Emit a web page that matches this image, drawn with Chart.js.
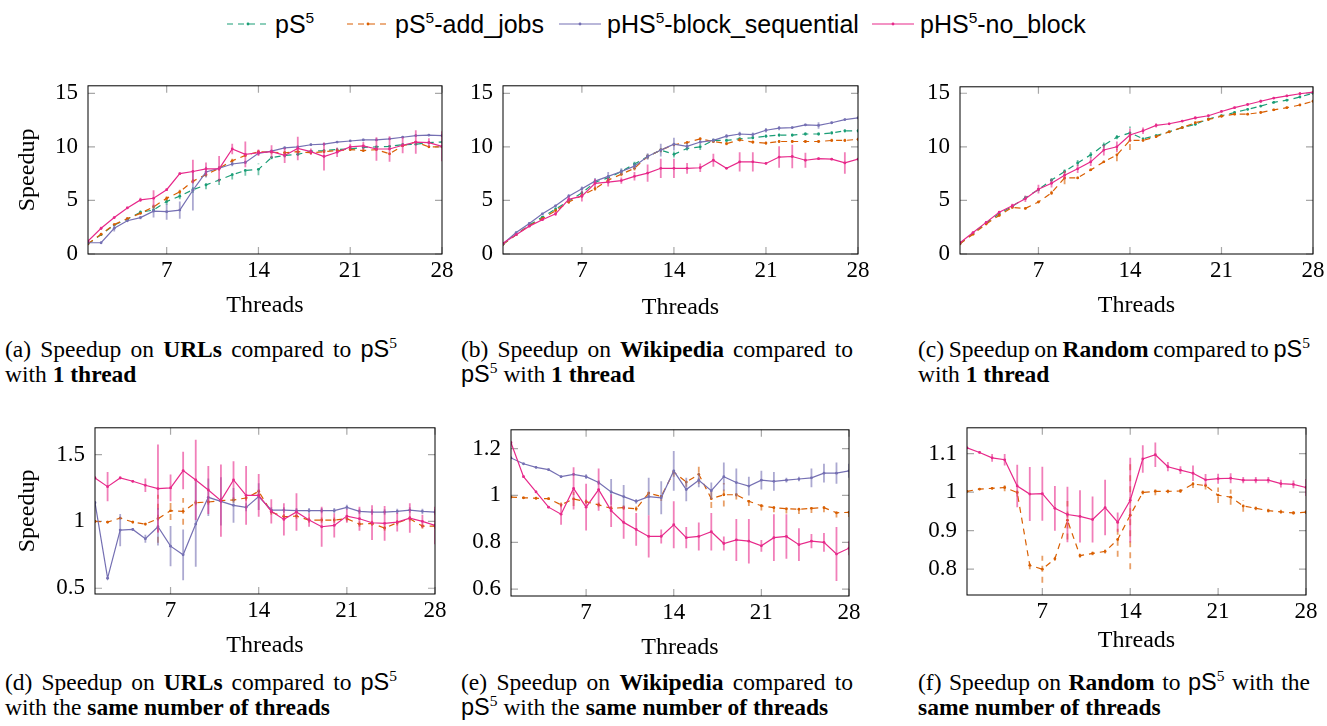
<!DOCTYPE html>
<html>
<head>
<meta charset="utf-8">
<script src="https://cdn.jsdelivr.net/npm/chart.js@4.4.1/dist/chart.umd.min.js"></script>
<style>
  html, body { margin: 0; padding: 0; background: #fff; }
  #page { position: relative; width: 1327px; height: 726px; overflow: hidden; }
  canvas { position: absolute; }
  .item { position: absolute; top: 9px; height: 30px; display: flex; align-items: center; gap: 6px;
          font: 25px/30px 'Liberation Sans', Arial, sans-serif; color: #000; white-space: nowrap; }
  .item sup { font-size: 0.62em; vertical-align: 10px; line-height: 0; }
  .cap { position: absolute; width: 392px; font: 23.5px/25px 'Liberation Serif', 'Times New Roman', serif; color: #000; }
  .cap .l1 { text-align: justify; text-align-last: justify; word-spacing: -2.5px; }
  .cap b { font-weight: bold; }
  .ps { font-family: 'Liberation Sans', Arial, sans-serif; }
  .ps sup { font-family: 'Liberation Serif', serif; font-size: 0.66em; vertical-align: 0.6em; line-height: 0; }
</style>
</head>
<body>
<div id="page">
  <div class="item" style="left:227px"><svg width="42" height="30"><line x1="0" y1="15" x2="42" y2="15" stroke="#1b9e77" stroke-width="1.2" stroke-dasharray="6 5"/><circle cx="21" cy="15" r="1.4" fill="#1b9e77"/></svg><span>pS<sup>5</sup></span></div>
  <div class="item" style="left:347px"><svg width="42" height="30"><line x1="0" y1="15" x2="42" y2="15" stroke="#d95f02" stroke-width="1.2" stroke-dasharray="6 5"/><circle cx="21" cy="15" r="1.4" fill="#d95f02"/></svg><span>pS<sup>5</sup>-add_jobs</span></div>
  <div class="item" style="left:559px"><svg width="42" height="30"><line x1="0" y1="15" x2="42" y2="15" stroke="#7570b3" stroke-width="1.2"/><circle cx="21" cy="15" r="1.4" fill="#7570b3"/></svg><span>pHS<sup>5</sup>-block_sequential</span></div>
  <div class="item" style="left:872px"><svg width="42" height="30"><line x1="0" y1="15" x2="42" y2="15" stroke="#e7298a" stroke-width="1.2"/><circle cx="21" cy="15" r="1.4" fill="#e7298a"/></svg><span>pHS<sup>5</sup>-no_block</span></div>

  <div class="cap" style="left:5px;top:337px"><div class="l1">(a) Speedup on <b>URLs</b> compared to <span class="ps">pS<sup>5</sup></span></div><div>with <b>1 thread</b></div></div>
  <div class="cap" style="left:461px;top:337px"><div class="l1">(b) Speedup on <b>Wikipedia</b> compared to</div><div><span class="ps">pS<sup>5</sup></span> with <b>1 thread</b></div></div>
  <div class="cap" style="left:918px;top:337px"><div class="l1">(c) Speedup on <b>Random</b> compared to <span class="ps">pS<sup>5</sup></span></div><div>with <b>1 thread</b></div></div>
  <div class="cap" style="left:5px;top:670px"><div class="l1">(d) Speedup on <b>URLs</b> compared to <span class="ps">pS<sup>5</sup></span></div><div>with the <b>same number of threads</b></div></div>
  <div class="cap" style="left:461px;top:670px"><div class="l1">(e) Speedup on <b>Wikipedia</b> compared to</div><div><span class="ps">pS<sup>5</sup></span> with the <b>same number of threads</b></div></div>
  <div class="cap" style="left:918px;top:670px"><div class="l1">(f) Speedup on <b>Random</b> to <span class="ps">pS<sup>5</sup></span> with the</div><div><b>same number of threads</b></div></div>
</div>
<script>
const threads = [1, 2, 3, 4, 5, 6, 7, 8, 9, 10, 11, 12, 13, 14, 15, 16, 17, 18, 19, 20, 21, 22, 23, 24, 25, 26, 27, 28];
const xTicks = [7, 14, 21, 28];

// (a) URLs, speedup vs pS5 with 1 thread
const aPS5 = [0.95, 1.8, 2.7, 3.25, 3.9, 4.1, 4.9, 5.4, 6.0, 6.45, 6.9, 7.4, 7.8, 7.9, 9.0, 9.2, 9.3, 9.6, 9.65, 9.75, 9.8, 9.95, 10.0, 10.05, 10.2, 10.25, 10.4, 10.45];
const aPS5Err = [0.05, 0.1, 0.1, 0.1, 0.15, 0.15, 0.3, 0.3, 0.3, 0.4, 0.45, 0.45, 0.5, 0.55, 0.15, 0.2, 0.15, 0.1, 0.1, 0.1, 0.15, 0.1, 0.1, 0.1, 0.15, 0.1, 0.1, 0.1];
const aAdd = [0.95, 1.85, 2.75, 3.3, 3.8, 4.4, 5.2, 5.8, 6.8, 7.4, 8.0, 8.7, 9.2, 9.55, 9.5, 9.45, 9.55, 9.45, 9.55, 9.65, 9.75, 9.65, 9.75, 9.35, 10.1, 10.45, 10.0, 10.0];
const aAddErr = [0.05, 0.1, 0.1, 0.1, 0.1, 0.2, 0.2, 0.2, 0.2, 0.2, 0.2, 0.2, 0.15, 0.1, 0.1, 0.15, 0.1, 0.1, 0.1, 0.1, 0.1, 0.1, 0.1, 0.1, 0.1, 0.1, 0.1, 0.1];
const aBlock = [1.05, 1.05, 2.4, 3.1, 3.4, 4.0, 3.95, 4.1, 5.95, 7.65, 8.0, 8.4, 8.55, 9.4, 9.6, 9.9, 10.0, 10.2, 10.25, 10.45, 10.55, 10.65, 10.65, 10.75, 10.9, 11.05, 11.1, 11.05];
const aBlockErr = [0.05, 0.05, 0.3, 0.1, 0.15, 0.6, 0.75, 0.8, 1.9, 0.5, 0.2, 0.2, 0.15, 0.15, 0.15, 0.15, 0.1, 0.1, 0.1, 0.1, 0.1, 0.1, 0.1, 0.1, 0.1, 0.1, 0.1, 0.1];
const aNoBlock = [1.2, 2.4, 3.4, 4.3, 5.05, 5.2, 6.0, 7.5, 7.7, 7.95, 7.95, 9.8, 9.3, 9.45, 9.55, 9.2, 9.85, 9.55, 9.1, 9.5, 10.0, 10.1, 9.8, 9.8, 10.15, 10.45, 10.4, 10.05];
const aNoBlockErr = [0.05, 0.15, 0.1, 0.1, 0.2, 0.75, 0.1, 0.1, 1.1, 0.6, 1.2, 0.5, 1.2, 0.3, 0.6, 0.7, 1.1, 0.3, 1.3, 0.45, 0.3, 0.35, 1.1, 1.2, 0.75, 1.1, 0.4, 1.4];

// (b) Wikipedia, speedup vs pS5 with 1 thread
const bPS5 = [0.9, 1.8, 2.7, 3.45, 4.2, 4.95, 5.7, 6.7, 7.1, 7.7, 8.4, 9.1, 9.7, 9.3, 9.85, 10.0, 10.6, 10.6, 10.75, 10.85, 11.0, 11.1, 11.1, 11.2, 11.2, 11.3, 11.5, 11.5];
const bPS5Err = [0.05, 0.1, 0.1, 0.1, 0.15, 0.15, 0.2, 0.2, 0.2, 0.2, 0.2, 0.2, 0.2, 0.3, 0.2, 0.3, 0.15, 0.15, 0.15, 0.15, 0.15, 0.15, 0.15, 0.15, 0.15, 0.15, 0.15, 0.15];
const bAdd = [0.9, 1.8, 2.65, 3.3, 4.05, 4.85, 5.45, 6.1, 6.9, 7.45, 8.0, 9.1, 9.7, 10.2, 10.4, 10.75, 10.5, 10.3, 10.65, 10.45, 10.35, 10.5, 10.5, 10.5, 10.5, 10.6, 10.6, 10.7];
const bAddErr = [0.05, 0.1, 0.1, 0.1, 0.15, 0.15, 0.2, 0.2, 0.2, 0.2, 0.2, 0.2, 0.2, 0.15, 0.15, 0.15, 0.15, 0.15, 0.15, 0.15, 0.15, 0.15, 0.15, 0.15, 0.15, 0.15, 0.15, 0.15];
const bBlock = [0.95, 2.0, 2.85, 3.75, 4.5, 5.4, 6.1, 6.8, 7.25, 7.7, 8.2, 9.1, 9.7, 10.25, 10.05, 10.45, 10.6, 11.0, 11.2, 11.15, 11.55, 11.75, 11.8, 12.05, 12.0, 12.25, 12.55, 12.7];
const bBlockErr = [0.05, 0.1, 0.1, 0.1, 0.1, 0.2, 0.2, 0.3, 0.4, 0.3, 0.3, 0.3, 0.6, 0.6, 0.3, 0.2, 0.2, 0.2, 0.2, 0.2, 0.2, 0.2, 0.1, 0.1, 0.3, 0.1, 0.1, 0.1];
const bNoBlock = [1.0, 1.8, 2.6, 3.2, 3.75, 5.1, 5.4, 6.6, 6.7, 6.85, 7.25, 7.55, 8.0, 8.0, 8.0, 8.05, 8.75, 8.0, 8.6, 8.6, 8.45, 9.05, 9.1, 8.75, 8.9, 8.85, 8.5, 8.85];
const bNoBlockErr = [0.05, 0.1, 0.1, 0.1, 0.2, 0.3, 0.5, 0.4, 0.4, 0.3, 0.4, 0.8, 0.9, 0.9, 0.5, 0.4, 0.6, 0.1, 0.9, 0.9, 0.1, 1.0, 1.1, 0.7, 0.1, 0.1, 1.0, 0.1];

// (c) Random, speedup vs pS5 with 1 thread
const cPS5 = [0.95, 1.95, 2.9, 3.75, 4.45, 5.25, 6.0, 6.9, 7.7, 8.5, 9.25, 10.15, 10.9, 11.3, 10.75, 11.05, 11.4, 11.8, 12.1, 12.6, 12.9, 13.2, 13.5, 13.8, 14.15, 14.35, 14.65, 15.0];
const cPS5Err = [0.05, 0.1, 0.1, 0.1, 0.1, 0.1, 0.15, 0.2, 0.2, 0.3, 0.3, 0.3, 0.2, 0.6, 0.1, 0.1, 0.1, 0.1, 0.1, 0.1, 0.1, 0.1, 0.1, 0.1, 0.1, 0.1, 0.1, 0.1];
const cAdd = [0.95, 1.85, 2.8, 3.6, 4.35, 4.25, 4.85, 5.7, 7.1, 7.1, 7.85, 8.6, 9.25, 10.6, 10.6, 10.95, 11.4, 11.8, 12.25, 12.55, 12.85, 13.05, 13.05, 13.2, 13.45, 13.65, 13.9, 14.25];
const cAddErr = [0.05, 0.1, 0.1, 0.1, 0.1, 0.1, 0.1, 0.2, 0.6, 0.1, 0.1, 0.1, 0.6, 0.9, 0.1, 0.1, 0.1, 0.1, 0.1, 0.1, 0.1, 0.1, 0.1, 0.1, 0.1, 0.1, 0.1, 0.1];
const cNoBlock = [1.05, 2.0, 2.95, 3.9, 4.5, 5.15, 6.05, 6.6, 7.35, 7.95, 8.6, 9.7, 10.0, 11.1, 11.5, 12.0, 12.15, 12.4, 12.7, 12.9, 13.3, 13.65, 13.95, 14.25, 14.55, 14.75, 14.95, 15.1];
const cNoBlockErr = [0.05, 0.1, 0.1, 0.1, 0.2, 0.3, 0.4, 0.4, 0.4, 0.4, 0.4, 0.5, 0.5, 0.6, 0.3, 0.2, 0.1, 0.1, 0.15, 0.1, 0.1, 0.1, 0.1, 0.15, 0.1, 0.1, 0.15, 0.1];

// (d) URLs, speedup vs pS5 with the same number of threads
const dAdd = [1.0, 0.995, 1.025, 0.995, 0.98, 1.02, 1.08, 1.075, 1.14, 1.145, 1.155, 1.16, 1.175, 1.225, 1.07, 1.035, 1.04, 1.01, 1.01, 1.01, 1.02, 0.98, 0.985, 0.95, 0.99, 1.02, 0.965, 0.965];
const dAddErr = [0.01, 0.01, 0.01, 0.01, 0.01, 0.18, 0.07, 0.1, 0.02, 0.02, 0.02, 0.02, 0.02, 0.03, 0.02, 0.02, 0.02, 0.02, 0.02, 0.02, 0.02, 0.02, 0.02, 0.02, 0.02, 0.02, 0.02, 0.02];
const dBlock = [1.14, 0.575, 0.935, 0.94, 0.87, 0.96, 0.815, 0.75, 0.98, 1.18, 1.15, 1.12, 1.105, 1.185, 1.085, 1.085, 1.08, 1.08, 1.08, 1.08, 1.105, 1.075, 1.07, 1.07, 1.075, 1.085, 1.075, 1.07];
const dBlockErr = [0.01, 0.01, 0.12, 0.01, 0.03, 0.14, 0.15, 0.19, 0.32, 0.14, 0.18, 0.13, 0.03, 0.1, 0.02, 0.02, 0.02, 0.02, 0.02, 0.02, 0.02, 0.02, 0.02, 0.02, 0.02, 0.02, 0.02, 0.02];
const dNoBlock = [1.325, 1.26, 1.325, 1.3, 1.27, 1.245, 1.25, 1.38, 1.31, 1.235, 1.155, 1.31, 1.195, 1.195, 1.075, 1.015, 1.07, 1.01, 0.96, 0.97, 1.04, 1.02, 0.99, 0.985, 0.995, 1.025, 1.0, 0.97];
const dNoBlockErr = [0.01, 0.11, 0.01, 0.01, 0.05, 0.33, 0.1, 0.14, 0.3, 0.18, 0.27, 0.14, 0.22, 0.16, 0.09, 0.12, 0.14, 0.05, 0.15, 0.09, 0.05, 0.09, 0.13, 0.13, 0.07, 0.11, 0.05, 0.14];

// (e) Wikipedia, speedup vs pS5 with the same number of threads
const eAdd = [0.993, 0.99, 0.988, 0.986, 0.96, 0.985, 0.973, 0.96, 0.945, 0.948, 0.943, 1.01, 0.996, 1.1, 1.057, 1.09, 0.986, 1.003, 1.003, 0.975, 0.956, 0.948, 0.943, 0.941, 0.945, 0.948, 0.926, 0.928];
const eAddErr = [0.005, 0.005, 0.005, 0.005, 0.01, 0.03, 0.01, 0.01, 0.01, 0.01, 0.01, 0.02, 0.02, 0.02, 0.02, 0.04, 0.04, 0.05, 0.02, 0.02, 0.02, 0.02, 0.02, 0.02, 0.02, 0.02, 0.02, 0.02];
const eBlock = [1.16, 1.135, 1.12, 1.11, 1.08, 1.09, 1.08, 1.055, 1.015, 0.995, 0.975, 0.995, 0.99, 1.105, 1.025, 1.065, 1.02, 1.08, 1.055, 1.04, 1.065, 1.06, 1.065, 1.07, 1.075, 1.095, 1.095, 1.105];
const eBlockErr = [0.005, 0.005, 0.005, 0.005, 0.005, 0.005, 0.01, 0.01, 0.055, 0.05, 0.01, 0.08, 0.07, 0.085, 0.05, 0.03, 0.035, 0.06, 0.06, 0.04, 0.04, 0.04, 0.01, 0.01, 0.04, 0.04, 0.045, 0.03];
const eNoBlock = [1.225, 1.08, 1.015, 0.95, 0.92, 1.03, 0.95, 1.025, 0.935, 0.885, 0.855, 0.825, 0.825, 0.875, 0.82, 0.825, 0.845, 0.795, 0.81, 0.805, 0.785, 0.82, 0.825, 0.79, 0.805, 0.8, 0.75, 0.775];
const eNoBlockErr = [0.005, 0.005, 0.005, 0.005, 0.045, 0.09, 0.1, 0.09, 0.07, 0.07, 0.07, 0.09, 0.03, 0.1, 0.045, 0.06, 0.08, 0.03, 0.09, 0.095, 0.025, 0.1, 0.095, 0.07, 0.03, 0.04, 0.115, 0.03];

// (f) Random, speedup vs pS5 with the same number of threads
const fAdd = [1.002, 1.008, 1.01, 1.012, 0.999, 0.81, 0.8, 0.827, 0.927, 0.835, 0.841, 0.846, 0.877, 0.94, 0.999, 1.002, 1.002, 1.003, 1.021, 1.017, 0.992, 0.987, 0.964, 0.958, 0.952, 0.949, 0.946, 0.948];
const fAddErr = [0.003, 0.003, 0.003, 0.01, 0.01, 0.01, 0.035, 0.005, 0.05, 0.005, 0.005, 0.005, 0.045, 0.14, 0.005, 0.01, 0.005, 0.005, 0.01, 0.01, 0.02, 0.02, 0.015, 0.005, 0.005, 0.005, 0.005, 0.005];
const fNoBlock = [1.115, 1.103, 1.089, 1.084, 1.016, 0.995, 0.996, 0.958, 0.942, 0.937, 0.929, 0.96, 0.922, 0.979, 1.086, 1.097, 1.066, 1.057, 1.049, 1.032, 1.035, 1.036, 1.031, 1.031, 1.031, 1.022, 1.02, 1.012];
const fNoBlockErr = [0.003, 0.003, 0.01, 0.015, 0.055, 0.07, 0.07, 0.058, 0.072, 0.068, 0.06, 0.072, 0.025, 0.11, 0.036, 0.032, 0.012, 0.01, 0.02, 0.015, 0.013, 0.013, 0.008, 0.008, 0.008, 0.01, 0.01, 0.022];

const topTicks = [0, 5, 10, 15];
const dTicks = [0.5, 1, 1.5];
const eTicks = [0.6, 0.8, 1, 1.2];
const fTicks = [0.8, 0.9, 1, 1.1];

// line styles for each method
const styles = {
  ps5:     { label: 'pS5',                    color: '#1b9e77', rgb: '27,158,119',  dash: [6, 5], order: 4 },
  add:     { label: 'pS5-add_jobs',           color: '#d95f02', rgb: '217,95,2',    dash: [6, 5], order: 3 },
  block:   { label: 'pHS5-block_sequential',  color: '#7570b3', rgb: '117,112,179', dash: [],     order: 2 },
  noblock: { label: 'pHS5-no_block',          color: '#e7298a', rgb: '231,41,138',  dash: [],     order: 1 }
};

// plot-area boxes in page pixels
const panels = [
  { box: { L: 88,  R: 442,  T: 78,  B: 254, titleY: 306 }, yTitle: true,  min: 0, max: 15.7, ticks: topTicks,
    series: [['ps5', aPS5, aPS5Err], ['add', aAdd, aAddErr], ['block', aBlock, aBlockErr], ['noblock', aNoBlock, aNoBlockErr]] },
  { box: { L: 503, R: 858,  T: 78,  B: 254, titleY: 308 }, yTitle: false, min: 0, max: 15.7, ticks: topTicks,
    series: [['ps5', bPS5, bPS5Err], ['add', bAdd, bAddErr], ['block', bBlock, bBlockErr], ['noblock', bNoBlock, bNoBlockErr]] },
  { box: { L: 960, R: 1313, T: 79,  B: 254, titleY: 306 }, yTitle: false, min: 0, max: 15.6, ticks: topTicks,
    series: [['ps5', cPS5, cPS5Err], ['add', cAdd, cAddErr], ['noblock', cNoBlock, cNoBlockErr]] },
  { box: { L: 95,  R: 435,  T: 420, B: 594, titleY: 646 }, yTitle: true,  min: 0.457, max: 1.7, ticks: dTicks,
    series: [['add', dAdd, dAddErr], ['block', dBlock, dBlockErr], ['noblock', dNoBlock, dNoBlockErr]] },
  { box: { L: 511, R: 849,  T: 422, B: 596, titleY: 648 }, yTitle: false, min: 0.571, max: 1.28, ticks: eTicks,
    series: [['add', eAdd, eAddErr], ['block', eBlock, eBlockErr], ['noblock', eNoBlock, eNoBlockErr]] },
  { box: { L: 967, R: 1306, T: 420, B: 595, titleY: 641 }, yTitle: false, min: 0.733, max: 1.167, ticks: fTicks,
    series: [['add', fAdd, fAddErr], ['noblock', fNoBlock, fNoBlockErr]] }
];

const serif = "'Liberation Serif', 'Times New Roman', serif";

// grey inward ticks on all four sides + black frame
const frameTicks = {
  id: 'frameTicks',
  beforeDatasetsDraw(chart) {
    const { ctx, chartArea: a, scales } = chart;
    ctx.save();
    ctx.strokeStyle = '#a8a8a8';
    ctx.lineWidth = 1.2;
    const len = 7;
    scales.x.ticks.forEach(t => {
      const px = scales.x.getPixelForValue(t.value);
      ctx.beginPath();
      ctx.moveTo(px, a.bottom); ctx.lineTo(px, a.bottom - len);
      ctx.moveTo(px, a.top); ctx.lineTo(px, a.top + len);
      ctx.stroke();
    });
    scales.y.ticks.forEach(t => {
      const py = scales.y.getPixelForValue(t.value);
      ctx.beginPath();
      ctx.moveTo(a.left, py); ctx.lineTo(a.left + len, py);
      ctx.moveTo(a.right, py); ctx.lineTo(a.right - len, py);
      ctx.stroke();
    });
    ctx.restore();
  },
  afterDraw(chart) {
    const { ctx, chartArea: a } = chart;
    ctx.save();
    ctx.strokeStyle = '#000';
    ctx.lineWidth = 1;
    ctx.strokeRect(a.left, a.top, a.right - a.left, a.bottom - a.top);
    ctx.restore();
  }
};

// vertical error bars, drawn right after each dataset
const errorBars = {
  id: 'errorBars',
  afterDatasetDraw(chart, args) {
    const ds = chart.data.datasets[args.index];
    if (!ds.errors) return;
    const { ctx, chartArea: a } = chart;
    const y = chart.scales.y;
    ctx.save();
    ctx.beginPath();
    ctx.rect(a.left, a.top, a.right - a.left, a.bottom - a.top);
    ctx.clip();
    ctx.strokeStyle = ds.errorColor;
    ctx.lineWidth = 1.8;
    ctx.setLineDash(ds.borderDash || []);
    args.meta.data.forEach((pt, i) => {
      const v = ds.data[i].y, e = ds.errors[i];
      ctx.beginPath();
      ctx.moveTo(pt.x, y.getPixelForValue(v - e));
      ctx.lineTo(pt.x, y.getPixelForValue(v + e));
      ctx.stroke();
    });
    ctx.restore();
  }
};

const page = document.getElementById('page');

panels.forEach(p => {
  const b = p.box;
  const left = p.yTitle ? 0 : b.L - 60;
  const top = b.T - 16;
  const W = b.L - left;
  const H = b.titleY - b.B + 14;
  const canvas = document.createElement('canvas');
  canvas.width = b.R + 24 - left;
  canvas.height = b.B + H - top;
  canvas.style.left = left + 'px';
  canvas.style.top = top + 'px';
  page.appendChild(canvas);

  const datasets = p.series.map(([key, values, errs]) => {
    const s = styles[key];
    return {
      label: s.label,
      data: threads.map((t, i) => ({ x: t, y: values[i] })),
      errors: errs,
      errorColor: 'rgba(' + s.rgb + ',0.6)',
      borderColor: s.color,
      backgroundColor: s.color,
      borderWidth: 1.2,
      borderDash: s.dash,
      pointRadius: 1.4,
      pointBorderWidth: 0,
      pointHoverRadius: 0,
      tension: 0,
      order: s.order
    };
  });

  new Chart(canvas, {
    type: 'line',
    data: { datasets },
    options: {
      responsive: false,
      animation: false,
      devicePixelRatio: 1,
      layout: { padding: { top: 16, right: 24, left: 0, bottom: 0 } },
      plugins: { legend: { display: false }, tooltip: { enabled: false } },
      scales: {
        x: {
          type: 'linear', min: 1, max: 28,
          afterBuildTicks: s => { s.ticks = xTicks.map(v => ({ value: v })); },
          afterFit: s => { s.height = H; },
          grid: { display: false, drawTicks: false },
          border: { display: false },
          ticks: { font: { family: serif, size: 23 }, color: '#000', padding: 3, maxRotation: 0, autoSkip: false },
          title: { display: true, text: 'Threads', color: '#000', font: { family: serif, size: 24 }, padding: 0 }
        },
        y: {
          type: 'linear', min: p.min, max: p.max,
          afterBuildTicks: s => { s.ticks = p.ticks.map(v => ({ value: v })); },
          afterFit: s => { s.width = W; },
          grid: { display: false, drawTicks: false },
          border: { display: false },
          ticks: { font: { family: serif, size: 23 }, color: '#000', padding: 10, autoSkip: false,
                   callback: v => String(+v.toFixed(2)) },
          title: { display: p.yTitle, text: 'Speedup', color: '#000', font: { family: serif, size: 24 },
                    padding: { top: 13, bottom: 0 } }
        }
      }
    },
    plugins: [frameTicks, errorBars]
  });
});
</script>
</body>
</html>
